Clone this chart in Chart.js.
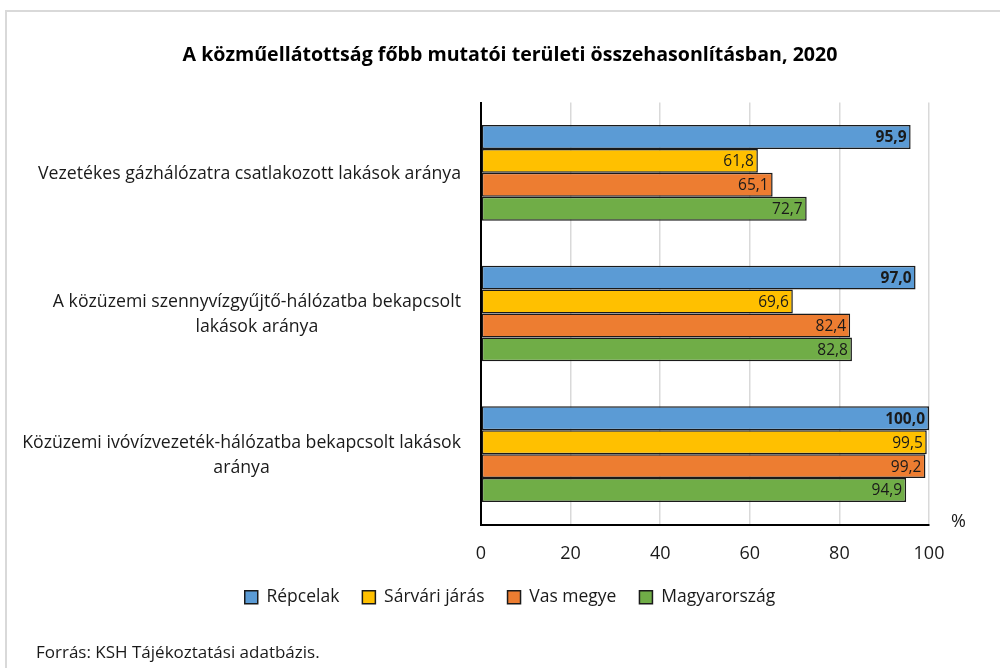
<!DOCTYPE html>
<html>
<head>
<meta charset="utf-8">
<script src="https://cdn.jsdelivr.net/npm/chart.js@4.4.1/dist/chart.umd.min.js"></script>
<style>
	body { margin: 0; background: #fff; }
	#wrap { position: relative; width: 1000px; height: 668px; overflow: hidden; }
	#frame { position: absolute; left: 5px; top: 10px; width: 1000px; height: 700px; border: 2px solid #d9d9d9; box-sizing: border-box; }
	#source { position: absolute; left: 36px; top: 640px; font: 17px 'Open Sans', sans-serif; color: #1a1a1a; }
	canvas { position: absolute; left: 0; top: 0; }
</style>
</head>
<body>
<div id="wrap">
	<div id="frame"></div>
	<canvas id="bar-chart" width="1000" height="668"></canvas>
	<div id="source">Forrás: KSH Tájékoztatási adatbázis.</div>
</div>
<script>
var categories = [
	["Vezetékes gázhálózatra csatlakozott lakások aránya"],
	["A közüzemi szennyvízgyűjtő-hálózatba bekapcsolt", "lakások aránya"],
	["Közüzemi ivóvízvezeték-hálózatba bekapcsolt lakások", "aránya"]
];
var seriesNames = ["Répcelak", "Sárvári járás", "Vas megye", "Magyarország"];
var repcelak = [95.9, 97.0, 100.0];
var sarvari = [61.8, 69.6, 99.5];
var vasMegye = [65.1, 82.4, 99.2];
var magyarorszag = [72.7, 82.8, 94.9];
var xTicks = [0, 20, 40, 60, 80, 100];

var colors = ["#5b9bd5", "#ffc000", "#ed7d31", "#70ad47"];
var FONT = "'Open Sans', sans-serif";

// category labels: each line centered in its own block, block right-aligned to the axis
var catLabels = {
	id: 'catLabels',
	afterDraw(chart) {
		var ctx = chart.ctx, y = chart.scales.y;
		ctx.save();
		ctx.font = "17.7px " + FONT;
		ctx.fillStyle = "#1a1a1a";
		ctx.textAlign = "center";
		ctx.textBaseline = "middle";
		categories.forEach((lines, i) => {
			var w = Math.max(...lines.map(l => ctx.measureText(l).width));
			var cx = chart.chartArea.left - 20 - w / 2;
			var cy = y.getPixelForTick(i) + 1 - (lines.length - 1) * 12.5;
			lines.forEach((l, k) => ctx.fillText(l, cx, cy + k * 25));
		});
		// unit
		ctx.font = "18px " + FONT;
		ctx.textAlign = "left";
		ctx.fillText("%", chart.chartArea.right + 22, chart.chartArea.bottom - 3);
		ctx.restore();
	}
};

// values at the inside end of each bar
var valueLabels = {
	id: 'valueLabels',
	afterDatasetsDraw(chart) {
		var ctx = chart.ctx;
		ctx.save();
		ctx.fillStyle = "#1a1a1a";
		ctx.textAlign = "right";
		ctx.textBaseline = "middle";
		chart.data.datasets.forEach((ds, di) => {
			ctx.font = (di == 0 ? "bold " : "") + "15.5px " + FONT;
			chart.getDatasetMeta(di).data.forEach((bar, i) => {
				ctx.fillText(ds.data[i].toFixed(1).replace(".", ","), bar.x - 4, bar.y + 1);
			});
		});
		ctx.restore();
	}
};

var values = [repcelak, sarvari, vasMegye, magyarorszag];

new Chart(document.getElementById("bar-chart"), {
	type: 'bar',
	data: {
		labels: categories,
		datasets: seriesNames.map((name, i) => ({
			label: name,
			data: values[i],
			backgroundColor: colors[i],
			borderColor: "#1a1a1a",
			borderWidth: 1.5,
			borderSkipped: false,
			categoryPercentage: 0.68,
			barPercentage: 1
		}))
	},
	options: {
		indexAxis: 'y',
		responsive: false,
		animation: false,
		layout: { padding: { left: 20, right: 0, top: 0, bottom: 52 } },
		plugins: {
			title: {
				display: true,
				text: "A közműellátottság főbb mutatói területi összehasonlításban, 2020",
				font: { family: FONT, size: 19.6, weight: 'bold' },
				color: "#000",
				padding: { top: 44, bottom: 35 }
			},
			legend: {
				position: 'bottom',
				labels: {
					font: { family: FONT, size: 17.5 },
					color: "#1a1a1a",
					boxWidth: 13,
					boxHeight: 13,
					padding: 23,
					useBorderRadius: false
				}
			},
			tooltip: { enabled: false }
		},
		scales: {
			x: {
				min: 0,
				max: 100,
				afterBuildTicks: s => { s.ticks = xTicks.map(v => ({ value: v })); },
				afterFit: s => { s.height = 41; },
				grid: { color: "#d9d9d9", lineWidth: 1.5, drawTicks: false },
				border: { color: "#000", width: 2 },
				ticks: { font: { family: FONT, size: 18 }, color: "#1a1a1a", padding: 19 }
			},
			y: {
				afterFit: s => { s.width = 481 - 20; },
				grid: { display: false },
				border: { color: "#000", width: 2 },
				ticks: { display: false }
			},
			// empty right gutter so the title and legend centre on the whole frame
			gutter: {
				type: 'linear',
				position: 'right',
				afterFit: s => { s.width = 71; },
				grid: { display: false },
				border: { display: false },
				ticks: { display: false }
			}
		}
	},
	plugins: [catLabels, valueLabels]
});
</script>
</body>
</html>
